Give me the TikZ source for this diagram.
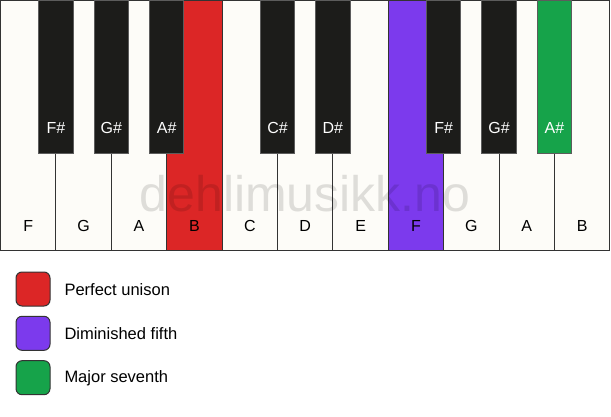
\documentclass[tikz,border=0pt]{standalone}
\usepackage{fontspec}
\setmainfont{Liberation Sans}
\definecolor{keywhite}{HTML}{FDFCF8}
\definecolor{keyblack}{HTML}{1C1C1A}
\definecolor{keyline}{HTML}{333333}
\definecolor{unisonred}{HTML}{DC2626}
\definecolor{fifthviolet}{HTML}{7C3AED}
\definecolor{seventhgreen}{HTML}{16A34A}
\tikzset{
  whitekey/.style={draw=keyline, line width=1pt, fill=keywhite, minimum width=55.4pt, minimum height=250pt, anchor=north west, inner sep=0pt, outer sep=0pt},
  blackkey/.style={draw=keyline!80!white, line width=1pt, fill=keyblack, minimum width=34.4pt, minimum height=153pt, anchor=north, inner sep=0pt, outer sep=0pt},
  wlabel/.style={font=\fontsize{16}{18}\selectfont, text=black, inner sep=0pt},
  blabel/.style={font=\fontsize{16}{18}\selectfont, text=white, inner sep=0pt},
  legendbox/.style={draw=keyline, line width=1pt, rounded corners=6pt, minimum width=34pt, minimum height=34pt, inner sep=0pt},
  legendtext/.style={font=\fontsize{16.5}{18}\selectfont, anchor=west, inner sep=0pt},
}
\begin{document}
\begin{tikzpicture}[x=1pt,y=-1pt]
\useasboundingbox[fill=white] (0,0) rectangle (611,417);
% white keys
\foreach \i/\n/\c in {0/F/keywhite,1/G/keywhite,2/A/keywhite,3/B/unisonred,4/C/keywhite,5/D/keywhite,6/E/keywhite,7/F/fifthviolet,8/G/keywhite,9/A/keywhite,10/B/keywhite}{
  \node[whitekey, fill=\c] (w\i) at ({0.5+55.4*\i},0.5) {};
  \node[wlabel, above=19pt] (wl\i) at (w\i.south) {\n};
}
% watermark
\node[font=\fontsize{50}{52}\selectfont, text=black, text opacity=0.12, inner sep=0pt] (wm) at (305,194) {dehlimusikk.no};
% black keys
\foreach \i/\n/\c in {1/F\#/keyblack,2/G\#/keyblack,3/A\#/keyblack,5/C\#/keyblack,6/D\#/keyblack,8/F\#/keyblack,9/G\#/keyblack,10/A\#/seventhgreen}{
  \node[blackkey, fill=\c] (b\i) at ({0.5+55.4*\i},0.5) {};
  \node[blabel, above=20pt] (bl\i) at (b\i.south) {\n};
}
% legend
\node[legendbox, fill=unisonred] (lg1) at (33,289) {};
\node[legendtext] (lt1) at (64.3,290) {Perfect unison};
\node[legendbox, fill=fifthviolet] (lg2) at (33,333.3) {};
\node[legendtext] (lt2) at (64.3,334) {Diminished fifth};
\node[legendbox, fill=seventhgreen] (lg3) at (33,377.7) {};
\node[legendtext] (lt3) at (64.3,378) {Major seventh};
\end{tikzpicture}
\end{document}
